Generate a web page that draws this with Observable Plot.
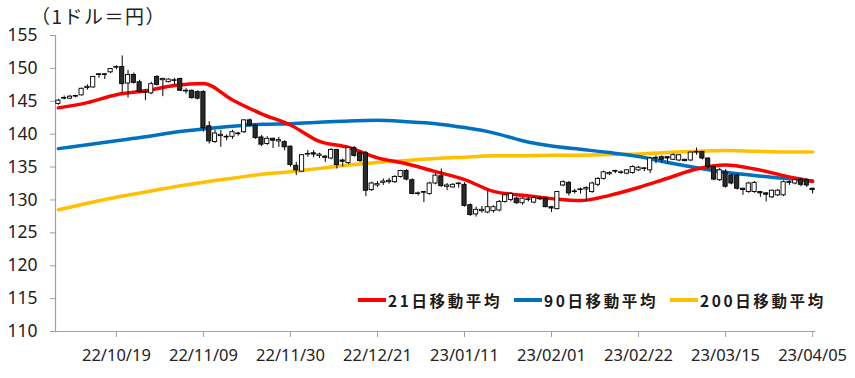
<!DOCTYPE html>
<html><head><meta charset="utf-8">
<script src="https://cdn.jsdelivr.net/npm/d3@7"></script>
<script src="https://cdn.jsdelivr.net/npm/@observablehq/plot@0.6"></script>
<style>
html,body{margin:0;padding:0;background:#fff;}
#wrap{position:relative;width:855px;height:378px;overflow:hidden;background:#fff;}
#chart{position:absolute;left:0;top:0;}
#title{position:absolute;left:31px;top:2px;font:19px "Noto Sans CJK JP";letter-spacing:1.5px;color:#222;white-space:nowrap;}
.lg{position:absolute;top:289px;height:22px;font:bold 15.5px "Noto Sans CJK JP";letter-spacing:2.6px;color:#1a1a1a;white-space:nowrap;line-height:22px;}
.lgl{position:absolute;top:298px;height:3.5px;width:28px;}
#chart g[aria-label="y-axis tick"] path,#chart g[aria-label="x-axis tick"] path{stroke:#a0a0a0;}
</style></head>
<body><div id="wrap"><div id="chart"></div><div id="title">（1ドル＝円）</div>
<div class="lgl" style="left:358px;background:#ff0000"></div><div class="lg" style="left:388px">21日移動平均</div>
<div class="lgl" style="left:514px;background:#0070c0"></div><div class="lg" style="left:544px">90日移動平均</div>
<div class="lgl" style="left:670px;background:#ffc000"></div><div class="lg" style="left:700px">200日移動平均</div>
</div>
<script>
// trading-day index 0..130 (categories), tick labels every 15 days
const xTickIdx = [10,25,40,55,70,85,100,115,130];
const xTickLabels = ["22/10/19","22/11/09","22/11/30","22/12/21","23/01/11","23/02/01","23/02/22","23/03/15","23/04/05"];
const yTicks = [110,115,120,125,130,135,140,145,150,155];

const open = [144.6,145.4,145.4,145.7,145.9,147.0,147.1,149.1,149.1,149.4,150.1,150.2,147.7,149.0,147.9,146.4,146.2,148.7,148.2,147.9,
148.1,148.4,146.5,146.6,146.4,146.4,141.2,138.8,139.7,139.5,139.6,140.1,140.3,142.1,141.3,139.5,138.5,139.3,138.9,138.8,
138.1,135.2,134.3,136.9,137.1,136.7,136.6,136.3,137.6,136.0,135.6,137.9,137.1,137.1,131.5,132.2,132.6,132.7,132.7,133.5,
134.4,133.0,130.9,131.2,130.9,132.5,133.6,132.0,131.9,132.5,132.3,129.2,127.8,128.3,128.1,128.3,128.4,129.7,130.0,130.2,
129.5,130.0,129.6,130.1,130.2,128.9,128.6,132.2,132.6,131.3,131.6,131.6,131.2,132.3,133.2,133.9,134.4,134.1,134.0,134.1,
134.5,134.8,134.5,136.3,136.5,136.5,136.1,136.0,136.1,136.0,137.2,137.3,136.3,135.0,133.0,134.2,133.7,133.7,131.7,131.2,
131.2,131.2,131.0,130.4,130.7,130.7,132.7,132.5,133.1,133.0,131.7];
const high = [145.3,145.8,145.9,145.9,147.0,147.5,148.8,149.2,149.2,150.0,150.4,151.9,149.7,149.3,148.2,146.8,147.9,148.9,148.5,148.4,
148.5,148.5,146.9,146.7,146.6,146.6,141.9,140.6,140.6,139.9,140.6,140.3,142.2,142.3,141.5,139.8,139.6,139.4,139.5,139.0,
138.2,135.7,136.9,137.5,137.5,137.1,136.7,137.8,137.7,136.2,138.0,138.1,137.4,137.4,132.7,132.8,133.2,133.3,133.7,134.5,
134.6,133.2,131.2,131.3,132.7,134.1,134.7,132.5,132.5,132.6,132.6,129.4,128.9,129.0,131.5,129.1,129.9,130.9,131.1,130.4,
130.4,130.4,130.5,130.5,130.4,129.0,131.3,132.9,132.8,131.6,131.8,132.0,132.7,133.4,134.4,134.3,134.5,134.4,134.6,135.2,
135.1,134.9,136.5,136.7,136.7,136.6,137.0,136.9,136.2,137.3,137.9,137.4,136.4,135.1,134.8,134.6,133.9,133.9,131.8,132.7,
132.8,131.3,131.1,131.5,131.6,132.9,132.9,133.2,133.3,133.2,131.8];
const low = [144.4,145.2,145.3,145.5,145.8,146.7,147.0,148.5,148.3,149.2,149.8,146.2,145.5,147.6,146.2,145.1,146.0,147.3,145.7,147.8,
147.5,146.5,146.1,145.3,145.2,140.3,138.5,138.6,138.0,139.0,139.2,139.7,140.1,141.1,139.2,138.1,138.3,137.8,138.0,137.5,
135.0,133.7,134.2,136.5,136.4,136.3,135.7,136.1,134.7,135.0,135.4,136.5,135.7,130.5,131.3,131.9,132.2,132.4,132.5,133.3,
132.9,130.8,130.6,129.6,130.7,132.3,131.9,131.4,131.8,131.8,128.9,127.5,127.4,128.0,127.9,128.0,128.2,129.5,129.7,129.3,
129.2,129.7,129.4,129.9,128.8,128.1,128.5,132.0,130.6,130.9,130.9,129.8,131.0,132.0,133.0,133.7,134.0,133.9,133.8,133.9,
134.3,134.3,134.0,135.5,135.6,135.4,136.0,135.8,135.8,135.8,136.8,136.1,134.7,132.9,132.8,131.8,132.3,131.5,130.7,131.0,
131.0,130.4,129.7,130.2,130.5,130.5,132.2,132.3,132.0,131.9,130.9];
const close = [145.1,145.5,145.7,145.8,146.9,147.2,148.7,149.0,149.0,149.9,150.2,147.6,149.0,147.8,146.4,146.3,147.6,147.5,148.4,148.3,
148.2,146.6,146.6,145.5,145.4,140.9,138.9,140.1,139.9,139.6,140.3,140.0,142.1,141.3,139.4,138.4,139.3,139.0,139.1,138.0,
135.3,134.5,136.8,137.0,136.9,136.9,136.4,137.6,135.3,135.8,137.9,136.7,135.9,131.4,132.5,132.4,132.8,132.9,133.5,134.4,
133.1,130.9,131.0,131.1,132.5,133.7,132.1,132.2,132.3,132.4,129.1,127.7,128.5,128.5,128.9,128.9,129.7,130.7,130.9,129.5,
130.2,130.1,130.3,130.2,128.9,128.7,131.2,132.7,131.0,131.2,131.5,131.8,132.5,133.2,134.2,134.1,134.3,134.2,134.5,135.0,
134.9,134.7,136.3,136.4,136.1,136.3,136.8,136.8,135.9,137.2,137.3,136.3,135.0,133.1,134.5,132.0,132.5,131.7,131.5,132.5,
132.6,131.0,130.8,131.4,131.4,132.7,132.6,133.0,132.3,132.2,131.5];

// moving averages read at every 5th trading day
const maIdx = [0,5,10,15,20,25,30,35,40,45,50,55,60,65,70,75,80,85,90,95,100,105,110,115,120,125,130];
const ma21 = [144.0,144.8,146.0,146.6,147.4,147.7,145.2,143.1,141.4,138.9,138.0,136.4,135.5,134.3,133.1,131.3,130.7,130.2,129.9,130.7,131.9,133.3,134.7,135.3,134.7,133.7,132.8];
const ma90 = [137.8,138.4,139.0,139.6,140.3,140.8,141.2,141.5,141.6,141.8,142.0,142.1,141.9,141.6,141.0,140.2,139.0,138.2,137.7,137.2,136.6,135.7,134.9,134.2,133.7,133.3,132.9];
const ma200 = [128.5,129.5,130.4,131.2,132.0,132.7,133.3,133.9,134.3,134.8,135.3,135.7,136.0,136.3,136.5,136.7,136.7,136.8,136.8,136.9,137.0,137.2,137.4,137.5,137.4,137.3,137.3];

const candles = open.map((o, i) => ({i, open: o, high: high[i], low: low[i], close: close[i]}));
const maSeries = (vals) => maIdx.map((i, k) => ({i, v: vals[k]}));

const chart = Plot.plot({
  width: 855, height: 378,
  marginLeft: 55, marginRight: 40, marginTop: 35, marginBottom: 47,
  style: {fontFamily: "'Noto Sans', sans-serif", background: "#fff", color: "#222"},
  x: {type: "linear", domain: [-0.5, 130.5]},
  y: {domain: [110, 155]},
  marks: [
    Plot.axisY({ticks: yTicks, tickSize: 5, tickPadding: 13, fontSize: 17.5, tickFormat: d => String(d), label: null}),
    Plot.axisX({ticks: xTickIdx, tickSize: 6, tickPadding: 12, fontSize: 16.5, tickFormat: d => xTickLabels[xTickIdx.indexOf(d)], label: null}),
    Plot.ruleX([-0.5], {stroke: "#a0a0a0", strokeWidth: 1.2}),
    Plot.ruleY([110], {stroke: "#a0a0a0", strokeWidth: 1.2}),
    Plot.line(maSeries(ma200), {x: "i", y: "v", stroke: "#ffc000", strokeWidth: 3.5, curve: "monotone-x"}),
    Plot.line(maSeries(ma90), {x: "i", y: "v", stroke: "#0070c0", strokeWidth: 3.5, curve: "monotone-x"}),
    Plot.line(maSeries(ma21), {x: "i", y: "v", stroke: "#ff0000", strokeWidth: 3.5, curve: "monotone-x"}),
    Plot.ruleX(candles, {x: "i", y1: "low", y2: "high", stroke: "#000", strokeWidth: 1}),
    Plot.rect(candles, {x1: d => d.i - 0.36, x2: d => d.i + 0.36, y1: "open", y2: "close",
      fill: d => d.close >= d.open ? "#ffffff" : "#2b2b2b", stroke: "#000", strokeWidth: 0.9})
  ]
});
document.getElementById("chart").appendChild(chart);
</script></body></html>
